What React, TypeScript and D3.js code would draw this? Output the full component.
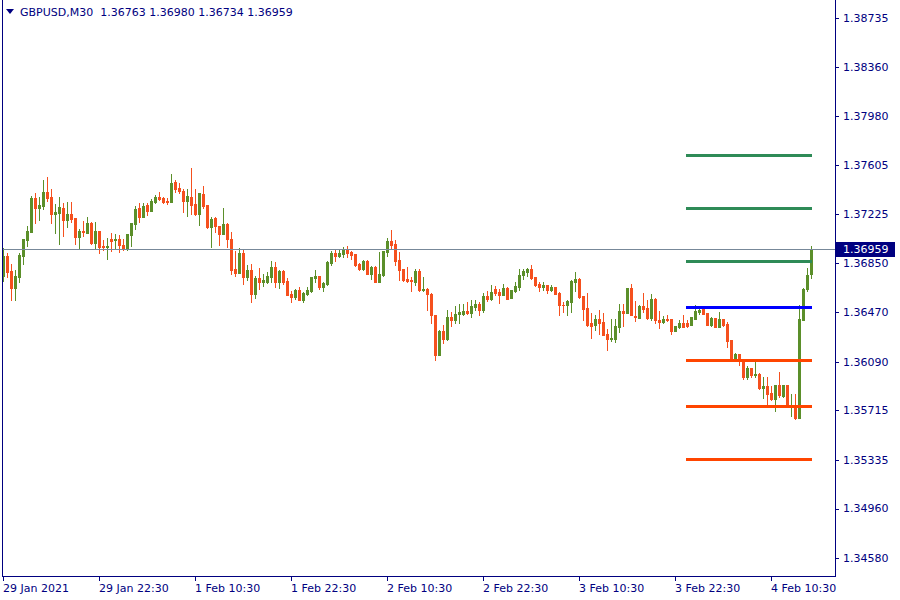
import React from "react";
import * as d3 from "d3";

const symbol = "GBPUSD,M30";

const opens = [
1.36753,1.36904,1.36789,1.36661,1.36745,1.36906,1.37027,1.37091,1.37353,1.37276,
1.37291,1.37399,1.37358,1.37227,1.37237,1.37276,1.37181,1.37227,1.37196,1.37050,
1.37096,1.37083,1.37158,1.37004,1.37096,1.36981,1.36973,1.37035,1.37029,1.37035,
1.36989,1.36965,1.37066,1.37150,1.37276,1.37204,1.37297,1.37253,1.37320,1.37358,
1.37350,1.37330,1.37322,1.37471,1.37430,1.37404,1.37327,1.37358,1.37304,1.37227,
1.37381,1.37297,1.37127,1.37196,1.37137,1.37073,1.37150,1.37035,1.36804,1.36776,
1.36929,1.36745,1.36797,1.36615,1.36735,1.36707,1.36707,1.36745,1.36820,1.36707,
1.36789,1.36712,1.36612,1.36592,1.36643,1.36569,1.36615,1.36638,1.36738,1.36751,
1.36666,1.36689,1.36853,1.36927,1.36906,1.36919,1.36958,1.36935,1.36919,1.36843,
1.36807,1.36866,1.36769,1.36820,1.36707,1.36761,1.36937,1.37019,1.36996,1.36874,
1.36804,1.36730,1.36722,1.36707,1.36789,1.36645,1.36651,1.36615,1.36451,1.36143,
1.36327,1.36268,1.36435,1.36412,1.36458,1.36458,1.36481,1.36466,1.36515,1.36535,
1.36489,1.36597,1.36574,1.36651,1.36628,1.36604,1.36658,1.36584,1.36638,1.36668,
1.36761,1.36781,1.36804,1.36741,1.36689,1.36668,1.36681,1.36645,1.36666,1.36620,
1.36528,1.36523,1.36553,1.36705,1.36728,1.36597,1.36504,1.36389,1.36374,1.36420,
1.36397,1.36304,1.36266,1.36266,1.36361,1.36481,1.36466,1.36658,1.36443,1.36430,
1.36520,1.36504,1.36425,1.36574,1.36412,1.36397,1.36420,1.36420,1.36327,1.36358,
1.36389,1.36389,1.36374,1.36420,1.36474,1.36494,1.36466,1.36374,1.36428,1.36358,
1.36420,1.36381,1.36258,1.36104,1.36150,1.36091,1.35975,1.36045,1.35991,1.35998,
1.35891,1.35906,1.35852,1.35806,1.35914,1.35829,1.35914,1.35745,1.35760,1.35660,
1.36412,1.36651,1.36763];

const highs = [
1.36963,1.36925,1.36843,1.36797,1.36925,1.37035,1.37135,1.37366,1.37387,1.37358,
1.37489,1.37512,1.37417,1.37304,1.37358,1.37314,1.37320,1.37320,1.37196,1.37112,
1.37173,1.37204,1.37166,1.37166,1.37096,1.37027,1.37042,1.37081,1.37073,1.37066,
1.37035,1.37073,1.37158,1.37289,1.37314,1.37314,1.37314,1.37340,1.37374,1.37394,
1.37358,1.37350,1.37535,1.37487,1.37466,1.37420,1.37417,1.37581,1.37420,1.37389,
1.37443,1.37297,1.37204,1.37204,1.37137,1.37273,1.37160,1.37089,1.36945,1.36965,
1.36950,1.36833,1.36843,1.36753,1.36812,1.36766,1.36781,1.36866,1.36858,1.36797,
1.36797,1.36735,1.36635,1.36651,1.36666,1.36628,1.36666,1.36743,1.36797,1.36751,
1.36705,1.36866,1.36942,1.36958,1.36950,1.36973,1.36981,1.36942,1.36919,1.36851,
1.36874,1.36874,1.36828,1.36828,1.36935,1.36942,1.37042,1.37104,1.37027,1.36935,
1.36804,1.36820,1.36743,1.36804,1.36804,1.36743,1.36661,1.36622,1.36451,1.36335,
1.36374,1.36489,1.36474,1.36520,1.36535,1.36535,1.36551,1.36566,1.36566,1.36553,
1.36620,1.36635,1.36681,1.36674,1.36653,1.36692,1.36666,1.36643,1.36705,1.36804,
1.36807,1.36815,1.36835,1.36745,1.36707,1.36707,1.36681,1.36684,1.36666,1.36628,
1.36551,1.36566,1.36720,1.36781,1.36735,1.36597,1.36622,1.36466,1.36451,1.36489,
1.36466,1.36343,1.36420,1.36420,1.36535,1.36531,1.36661,1.36689,1.36558,1.36523,
1.36620,1.36566,1.36612,1.36581,1.36481,1.36443,1.36451,1.36420,1.36366,1.36412,
1.36451,1.36412,1.36435,1.36528,1.36512,1.36512,1.36466,1.36435,1.36428,1.36474,
1.36420,1.36397,1.36258,1.36158,1.36150,1.36091,1.36060,1.36045,1.36104,1.36006,
1.35975,1.35975,1.35906,1.35914,1.36012,1.35914,1.35914,1.35845,1.35845,1.36528,
1.36658,1.36812,1.36980];

const lows = [
1.36712,1.36745,1.36566,1.36566,1.36707,1.36846,1.36983,1.37091,1.37156,1.37181,
1.37266,1.37327,1.37160,1.37081,1.36996,1.37060,1.37129,1.37163,1.36996,1.36958,
1.37060,1.37079,1.36996,1.36968,1.36929,1.36950,1.36881,1.36942,1.36958,1.36935,
1.36950,1.36950,1.36981,1.37112,1.37166,1.37204,1.37220,1.37253,1.37314,1.37335,
1.37312,1.37307,1.37322,1.37399,1.37389,1.37245,1.37214,1.37227,1.37220,1.37143,
1.37271,1.37122,1.36973,1.37089,1.36989,1.37073,1.36973,1.36769,1.36753,1.36776,
1.36687,1.36722,1.36553,1.36584,1.36653,1.36676,1.36699,1.36707,1.36668,1.36661,
1.36692,1.36607,1.36553,1.36576,1.36569,1.36553,1.36607,1.36630,1.36707,1.36651,
1.36638,1.36684,1.36838,1.36869,1.36898,1.36896,1.36898,1.36883,1.36830,1.36799,
1.36799,1.36769,1.36730,1.36707,1.36707,1.36753,1.36906,1.36965,1.36838,1.36722,
1.36715,1.36707,1.36638,1.36684,1.36638,1.36638,1.36489,1.36391,1.36100,1.36143,
1.36235,1.36261,1.36366,1.36389,1.36389,1.36453,1.36458,1.36435,1.36489,1.36451,
1.36476,1.36558,1.36566,1.36604,1.36545,1.36600,1.36576,1.36584,1.36630,1.36643,
1.36730,1.36753,1.36728,1.36676,1.36638,1.36643,1.36622,1.36638,1.36615,1.36446,
1.36476,1.36453,1.36476,1.36638,1.36584,1.36412,1.36366,1.36274,1.36335,1.36304,
1.36297,1.36181,1.36253,1.36245,1.36322,1.36366,1.36466,1.36446,1.36404,1.36428,
1.36476,1.36420,1.36412,1.36391,1.36353,1.36389,1.36404,1.36304,1.36327,1.36351,
1.36358,1.36361,1.36374,1.36417,1.36458,1.36458,1.36374,1.36366,1.36358,1.36358,
1.36366,1.36207,1.36104,1.36096,1.36068,1.35960,1.35960,1.35975,1.35975,1.35883,
1.35814,1.35768,1.35798,1.35714,1.35821,1.35821,1.35745,1.35676,1.35653,1.35660,
1.36412,1.36635,1.36734];

const closes = [
1.36904,1.36784,1.36661,1.36751,1.36912,1.37035,1.37096,1.37353,1.37276,1.37297,
1.37399,1.37353,1.37227,1.37245,1.37281,1.37181,1.37227,1.37189,1.37050,1.37099,
1.37091,1.37158,1.37004,1.37096,1.36975,1.36973,1.36978,1.37019,1.37035,1.36989,
1.36965,1.37073,1.37158,1.37268,1.37204,1.37291,1.37253,1.37327,1.37358,1.37343,
1.37322,1.37322,1.37466,1.37420,1.37404,1.37327,1.37366,1.37297,1.37227,1.37389,
1.37289,1.37127,1.37189,1.37137,1.37073,1.37150,1.37032,1.36799,1.36776,1.36929,
1.36745,1.36797,1.36615,1.36735,1.36707,1.36722,1.36751,1.36820,1.36707,1.36789,
1.36707,1.36607,1.36592,1.36643,1.36569,1.36620,1.36643,1.36743,1.36751,1.36666,
1.36697,1.36858,1.36927,1.36906,1.36927,1.36958,1.36927,1.36912,1.36838,1.36807,
1.36866,1.36769,1.36820,1.36707,1.36766,1.36942,1.37019,1.36991,1.36869,1.36799,
1.36722,1.36715,1.36715,1.36789,1.36645,1.36651,1.36608,1.36453,1.36143,1.36327,
1.36268,1.36435,1.36412,1.36458,1.36474,1.36484,1.36466,1.36520,1.36535,1.36489,
1.36597,1.36574,1.36628,1.36620,1.36600,1.36658,1.36576,1.36643,1.36674,1.36761,
1.36792,1.36804,1.36735,1.36684,1.36668,1.36684,1.36645,1.36666,1.36615,1.36523,
1.36523,1.36561,1.36712,1.36728,1.36592,1.36499,1.36374,1.36366,1.36420,1.36389,
1.36297,1.36266,1.36274,1.36366,1.36481,1.36466,1.36658,1.36446,1.36438,1.36520,
1.36497,1.36425,1.36574,1.36412,1.36399,1.36420,1.36412,1.36327,1.36366,1.36389,
1.36358,1.36366,1.36435,1.36481,1.36489,1.36458,1.36374,1.36428,1.36358,1.36420,
1.36374,1.36251,1.36112,1.36150,1.36104,1.35975,1.36045,1.35991,1.35998,1.35891,
1.35906,1.35845,1.35806,1.35914,1.35837,1.35914,1.35752,1.35760,1.35660,1.36420,
1.36651,1.36758,1.36959];

const priceTicks = ["1.38735","1.38360","1.37980","1.37605","1.37225","1.36850","1.36470","1.36090","1.35715","1.35335","1.34960","1.34580"];
const timeLabels = ["29 Jan 2021","29 Jan 22:30","1 Feb 10:30","1 Feb 22:30","2 Feb 10:30","2 Feb 22:30","3 Feb 10:30","3 Feb 22:30","4 Feb 10:30"];
const timeLabelIndex = [0, 24, 48, 72, 96, 120, 144, 168, 192];

const levelPrices = [1.37681, 1.37274, 1.36866, 1.36512, 1.36104, 1.35750, 1.35342];
const levelKinds = ["up", "up", "up", "pivot", "down", "down", "down"];
const levelStartIndex = 170.75;
const levelEndIndex = 202.25;

const FG = "#000080";
const BULL = "#5b8f2a";
const BEAR = "#f5501e";
const LEVEL_COLORS: Record<string, string> = { up: "#2e8b57", pivot: "#0000ff", down: "#ff4500" };
const FONT = "'DejaVu Sans', Verdana, sans-serif";

export default function App() {
  const n = closes.length;
  const x = d3.scaleLinear().domain([0, n - 1]).range([3, 811]);
  const y = d3.scaleLinear().domain([1.38735, 1.3458]).range([18, 558]);
  const left = 2, right = 835, bottom = 576;
  const last = n - 1;
  const bid = closes[last];
  const bidY = Math.round(y(bid));
  const title = `${symbol}  ${opens[last].toFixed(5)} ${highs[last].toFixed(5)} ${lows[last].toFixed(5)} ${closes[last].toFixed(5)}`;

  return (
    <svg width={900} height={600} style={{ position: "absolute", left: 0, top: 0, background: "#fff" }} fontFamily={FONT}>
      <rect x={0} y={0} width={900} height={600} fill="#ffffff" />
      {/* candles */}
      <g shapeRendering="crispEdges">
        {closes.map((c, i) => {
          const o = opens[i], h = highs[i], l = lows[i];
          const cx = Math.round(x(i));
          const col = c >= o ? BULL : BEAR;
          const hy = Math.round(y(h));
          const ly = Math.round(y(l));
          const bt = Math.round(y(Math.max(o, c)));
          const bb = Math.round(y(Math.min(o, c)));
          return (
            <g key={i} fill={col}>
              <rect x={cx} y={hy} width={1} height={Math.max(1, ly - hy + 1)} />
              <rect x={cx - 1} y={bt} width={3} height={Math.max(1, bb - bt + 1)} />
            </g>
          );
        })}
      </g>
      {/* bid line */}
      <line x1={left} x2={right} y1={bidY + 0.5} y2={bidY + 0.5} stroke="#778899" strokeWidth={1} />
      {/* levels */}
      {levelPrices.map((p, i) => (
        <line key={i} x1={x(levelStartIndex)} x2={x(levelEndIndex)} y1={Math.round(y(p)) + 0.5} y2={Math.round(y(p)) + 0.5}
          stroke={LEVEL_COLORS[levelKinds[i]]} strokeWidth={3} />
      ))}
      {/* frame */}
      <g shapeRendering="crispEdges" stroke={FG} strokeWidth={1}>
        <line x1={left + 0.5} x2={left + 0.5} y1={0} y2={bottom + 0.5} />
        <line x1={right + 0.5} x2={right + 0.5} y1={0} y2={bottom + 0.5} />
        <line x1={left} x2={right + 1} y1={bottom + 0.5} y2={bottom + 0.5} />
        {priceTicks.map((t) => {
          const ty = Math.round(y(+t)) + 0.5;
          return <line key={t} x1={right} x2={right + 4} y1={ty} y2={ty} />;
        })}
        {timeLabelIndex.map((ti) => {
          const tx = Math.round(x(ti)) + 0.5;
          return <line key={ti} x1={tx} x2={tx} y1={bottom} y2={bottom + 5} />;
        })}
      </g>
      {/* price labels */}
      {priceTicks.map((t) => (
        <text key={t} x={843} y={y(+t)} dy="0.35em" fontSize={11} fill={FG}>{t}</text>
      ))}
      <rect x={836} y={bidY - 7} width={59} height={15} fill={FG} />
      <text x={843} y={bidY} dy="0.35em" fontSize={11} fill="#ffffff">{bid.toFixed(5)}</text>
      {/* time labels */}
      {timeLabels.map((t, i) => (
        <text key={t} x={Math.round(x(timeLabelIndex[i]))} y={592} fontSize={11} fill={FG}>{t}</text>
      ))}
      {/* title */}
      <path d="M6,9 L14,9 L10,14 Z" fill={FG} />
      <text x={20} y={16} fontSize={11} fill={FG} style={{ whiteSpace: "pre" }} xmlSpace="preserve">{title}</text>
    </svg>
  );
}
